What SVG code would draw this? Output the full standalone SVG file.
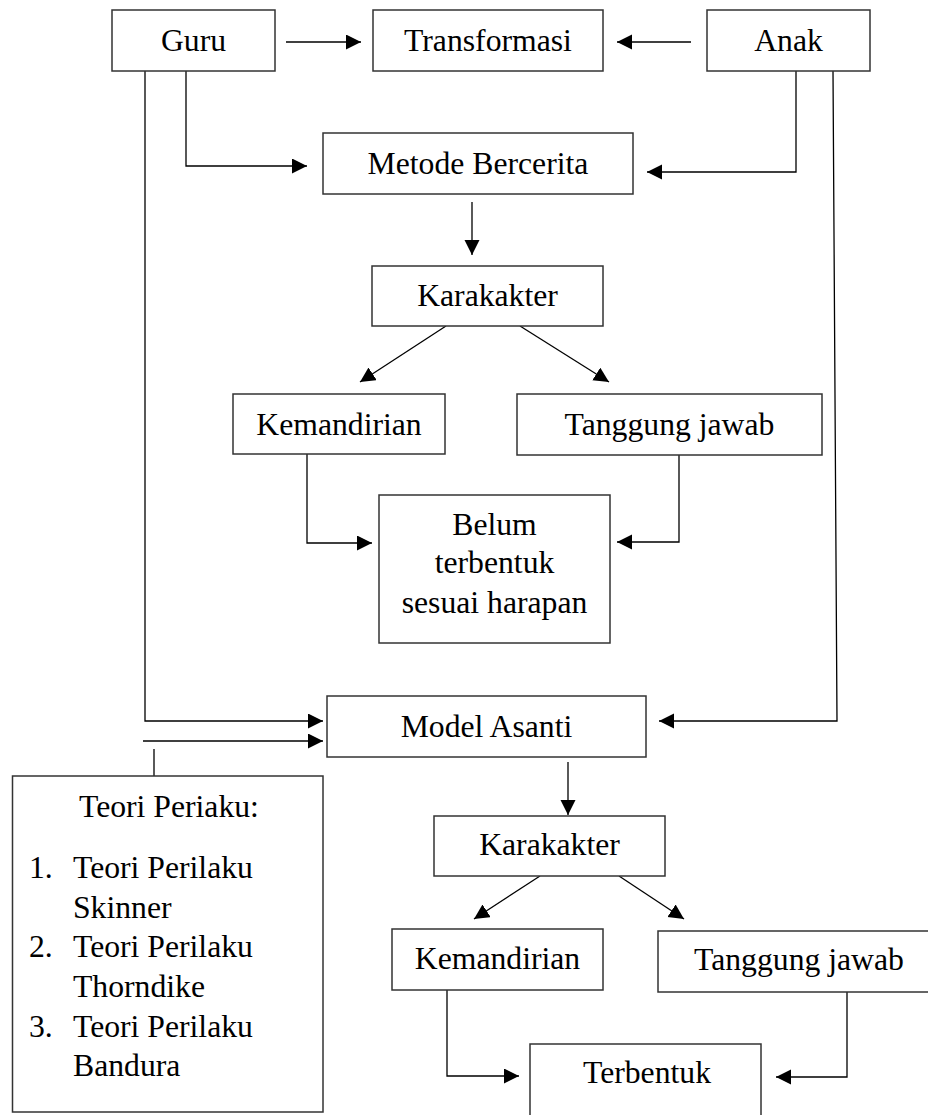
<svg xmlns="http://www.w3.org/2000/svg" width="928" height="1115" viewBox="0 0 928 1115">
<style>
.box{fill:#fff;stroke:#333;stroke-width:1.5}
.t{font-family:"Liberation Serif","Times New Roman",serif;font-size:31.7px;fill:#000;text-anchor:middle}
.tl{font-family:"Liberation Serif","Times New Roman",serif;font-size:31.7px;fill:#000}
.c{fill:none;stroke:#000;stroke-width:1.3}
</style>
<defs>
<marker id="ah" markerUnits="userSpaceOnUse" markerWidth="16" markerHeight="16" refX="15" refY="7.5" orient="auto">
<path d="M0,0 L15,7.5 L0,15 z" fill="#000"/>
</marker>
</defs>
<rect width="928" height="1115" fill="#fff"/>
<g id="connectors">
<path class="c" d="M286,42 H361" marker-end="url(#ah)"/>
<path class="c" d="M691,42 H617" marker-end="url(#ah)"/>
<path class="c" d="M186,71 V166 H307" marker-end="url(#ah)"/>
<path class="c" d="M796,71 V172 H647" marker-end="url(#ah)"/>
<path class="c" d="M472,202 V255" marker-end="url(#ah)"/>
<path class="c" d="M446,326 L360,382" marker-end="url(#ah)"/>
<path class="c" d="M520,326 L609,382" marker-end="url(#ah)"/>
<path class="c" d="M307,454 V543 H372" marker-end="url(#ah)"/>
<path class="c" d="M679,455 V542 H617" marker-end="url(#ah)"/>
<path class="c" d="M145,71 V721 H323" marker-end="url(#ah)"/>
<path class="c" d="M143,741 H323" marker-end="url(#ah)"/>
<path class="c" d="M154,749 V784"/>
<path class="c" d="M833,71 L837,721 H659" marker-end="url(#ah)"/>
<path class="c" d="M568,762 V815" marker-end="url(#ah)"/>
<path class="c" d="M540,876 L474,919" marker-end="url(#ah)"/>
<path class="c" d="M619,876 L684,919" marker-end="url(#ah)"/>
<path class="c" d="M447,990 V1076 H519" marker-end="url(#ah)"/>
<path class="c" d="M847,992 V1077 H776" marker-end="url(#ah)"/>
</g>
<g id="guru"><rect class="box" x="112" y="10" width="163" height="61"/><text class="t" x="193.5" y="51">Guru</text></g>
<g id="transformasi"><rect class="box" x="373" y="10" width="230" height="61"/><text class="t" x="488" y="51">Transformasi</text></g>
<g id="anak"><rect class="box" x="707" y="10" width="163" height="61"/><text class="t" x="788.5" y="51">Anak</text></g>
<g id="metode"><rect class="box" x="323" y="133" width="310" height="61"/><text class="t" x="478" y="174">Metode Bercerita</text></g>
<g id="karakter1"><rect class="box" x="372" y="266" width="231" height="60"/><text class="t" x="487.5" y="306">Karakakter</text></g>
<g id="kemandirian1"><rect class="box" x="233" y="394" width="212" height="60"/><text class="t" x="339" y="435">Kemandirian</text></g>
<g id="tanggung1"><rect class="box" x="517" y="394" width="305" height="61"/><text class="t" x="669.5" y="435">Tanggung jawab</text></g>
<g id="belum"><rect class="box" x="379" y="495" width="231" height="148"/>
<text class="t" x="494.5" y="535">Belum</text>
<text class="t" x="494.5" y="573">terbentuk</text>
<text class="t" x="494.5" y="613">sesuai harapan</text></g>
<g id="model"><rect class="box" x="327" y="696" width="319" height="61"/><text class="t" x="486.5" y="737">Model Asanti</text></g>
<g id="teori"><rect class="box" x="12.5" y="776" width="310.5" height="336"/>
<text class="tl" x="79" y="817">Teori Periaku:</text>
<text class="tl" x="29" y="878">1.</text><text class="tl" x="73" y="878">Teori Perilaku</text>
<text class="tl" x="73" y="918">Skinner</text>
<text class="tl" x="29" y="957">2.</text><text class="tl" x="73" y="957">Teori Perilaku</text>
<text class="tl" x="73" y="997">Thorndike</text>
<text class="tl" x="29" y="1037">3.</text><text class="tl" x="73" y="1037">Teori Perilaku</text>
<text class="tl" x="73" y="1076">Bandura</text></g>
<g id="karakter2"><rect class="box" x="434" y="816" width="231" height="60"/><text class="t" x="549.5" y="855">Karakakter</text></g>
<g id="kemandirian2"><rect class="box" x="392" y="929" width="211" height="61"/><text class="t" x="497.5" y="969">Kemandirian</text></g>
<g id="tanggung2"><rect class="box" x="658" y="931" width="290" height="61"/><text class="t" x="799" y="970">Tanggung jawab</text></g>
<g id="terbentuk"><rect class="box" x="530" y="1044" width="231" height="90"/><text class="t" x="647" y="1083">Terbentuk</text></g>
</svg>
